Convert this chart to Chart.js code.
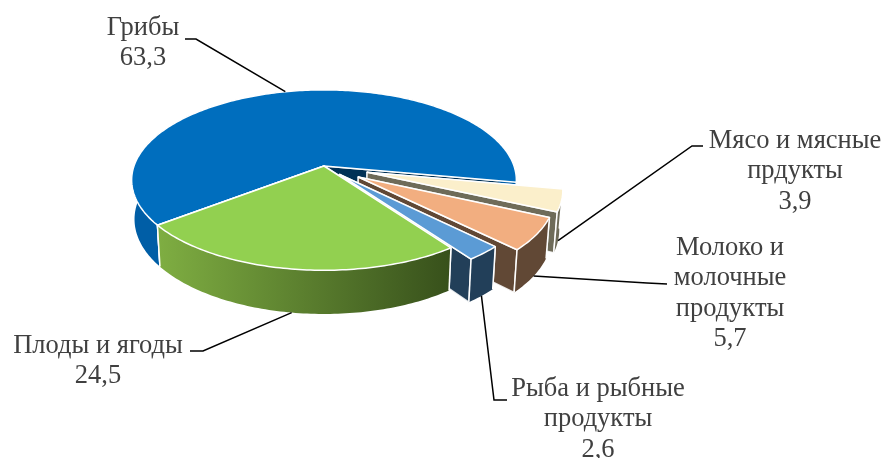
<!DOCTYPE html>
<html lang="ru">
<head>
<meta charset="utf-8">
<title>Структура</title>
<script src="https://cdn.jsdelivr.net/npm/chart.js@4/dist/chart.umd.min.js"></script>
<style>
  html, body { margin: 0; background: #fff; }
  canvas { display: block; }
</style>
</head>
<body>
<canvas id="pieChart" width="882" height="458"></canvas>
<script>
const categories = [
  ['Грибы'],
  ['Мясо и мясные', 'прдукты'],
  ['Молоко и', 'молочные', 'продукты'],
  ['Рыба и рыбные', 'продукты'],
  ['Плоды и ягоды'],
];
const shareValues = [63.3, 3.9, 5.7, 2.6, 24.5];

const topColors = ['#006EBE', '#FBEFCB', '#F2AE80', '#5B9BD5', '#92D050'];
const wallColors = ['#005EA6', '#6E6B59', '#614835', '#223F59', null];
const radialWallColors = ['#003156', '#6E6B59', '#614835', '#223F59', '#38501C'];
const explodeBy = [0, 0.235, 0.215, 0.125, 0];
const drawOrder = [0, 1, 2, 3, 4];

const labelSpots = [
  { x: 143, y: 27 }, { x: 795, y: 140 }, { x: 730, y: 247 }, { x: 598, y: 388 }, { x: 98, y: 345 },
];
const leaderBends = [
  [[196, 39], [185, 39]],
  [[692, 146], [703, 146]],
  [[647, 283], [667, 284]],
  [[494, 400], [507, 400]],
  [[203, 351], [190, 351]],
];

// perspective look of the tilted pie
const SX = 190, SY = 88, PERSP = 0.156;

function project(arc, mid, angle, explode, radius, bottom) {
  const X = radius * Math.cos(angle) + explode * Math.cos(mid);
  const Y = radius * Math.sin(angle) + explode * Math.sin(mid);
  const w = 1 - PERSP * Y;
  let x = X * SX / w;
  let y = Y * SY / w;
  if (bottom) {
    x *= 0.985;
    y = y * 1.05 + 38.5;
  }
  return [arc.x + x, arc.y + y];
}

function fillPoly(ctx, pts, fill, stroke) {
  ctx.beginPath();
  pts.forEach((p, i) => (i ? ctx.lineTo(p[0], p[1]) : ctx.moveTo(p[0], p[1])));
  ctx.closePath();
  ctx.fillStyle = fill;
  ctx.fill();
  if (stroke) {
    ctx.strokeStyle = stroke;
    ctx.lineWidth = 1.5;
    ctx.stroke();
  }
}

function drawSlice(ctx, arc, i) {
  const start = arc.startAngle, end = arc.endAngle;
  const mid = (start + end) / 2;
  const e = explodeBy[i];
  const pt = (a, r, bottom) => project(arc, mid, a, e, r, bottom);

  const steps = Math.max(4, Math.round((end - start) * 180 / Math.PI));
  const topEdge = [], lowEdge = [];
  for (let s = 0; s <= steps; s++) {
    const a = start + (end - start) * s / steps;
    topEdge.push(pt(a, 1, false));
    lowEdge.push(pt(a, 1, true));
  }

  // radial faces, then the rim, then the top
  [start, end].forEach(a => {
    fillPoly(ctx, [pt(a, 0, false), pt(a, 1, false), pt(a, 1, true), pt(a, 0, true)], radialWallColors[i], 'rgba(255,255,255,0.85)');
  });

  let rim = wallColors[i];
  if (!rim) {
    const g = ctx.createLinearGradient(topEdge[steps][0], 0, topEdge[0][0], 0);
    g.addColorStop(0, '#7FAE42');
    g.addColorStop(1, '#37501B');
    rim = g;
  }
  fillPoly(ctx, topEdge.concat(lowEdge.slice().reverse()), rim);
  ctx.strokeStyle = '#fff';
  ctx.lineWidth = 1.5;
  [topEdge[0], topEdge[steps]].forEach((p, k) => {
    const q = k ? lowEdge[steps] : lowEdge[0];
    ctx.beginPath();
    ctx.moveTo(p[0], p[1]);
    ctx.lineTo(q[0], q[1]);
    ctx.stroke();
  });

  fillPoly(ctx, [pt(start, 0, false)].concat(topEdge), topColors[i], '#fff');
}

const pie3d = {
  id: 'pie3d',
  beforeDatasetsDraw(chart) {
    const ctx = chart.ctx;
    const arcs = chart.getDatasetMeta(0).data;
    ctx.save();
    ctx.lineJoin = 'round';
    drawOrder.forEach(i => drawSlice(ctx, arcs[i], i));
    ctx.restore();
    return false;
  },
  afterDraw(chart) {
    const ctx = chart.ctx;
    const arcs = chart.getDatasetMeta(0).data;
    ctx.save();
    arcs.forEach((arc, i) => {
      const mid = (arc.startAngle + arc.endAngle) / 2;
      const from = project(arc, mid, mid, explodeBy[i], 1, Math.sin(mid) > 0);
      ctx.beginPath();
      ctx.moveTo(from[0], from[1]);
      leaderBends[i].forEach(p => ctx.lineTo(p[0], p[1]));
      ctx.strokeStyle = '#000';
      ctx.lineWidth = 1.5;
      ctx.stroke();

      const lines = chart.data.labels[i].concat(String(shareValues[i]).replace('.', ','));
      ctx.font = '26.5px "Liberation Serif"';
      ctx.fillStyle = '#404040';
      ctx.textAlign = 'center';
      ctx.textBaseline = 'middle';
      lines.forEach((line, n) => ctx.fillText(line, labelSpots[i].x, labelSpots[i].y + 1 + n * 30.4));
    });
    ctx.restore();
  },
};

new Chart(document.getElementById('pieChart').getContext('2d'), {
  type: 'pie',
  data: {
    labels: categories,
    datasets: [{ data: shareValues, backgroundColor: topColors, borderColor: '#fff' }],
  },
  options: {
    responsive: false,
    animation: false,
    rotation: 232.5,
    layout: { padding: { left: 0, right: 234, top: 0, bottom: 126 } },
    plugins: {
      legend: { display: false },
      tooltip: { enabled: false },
    },
  },
  plugins: [pie3d],
});
</script>
</body>
</html>
